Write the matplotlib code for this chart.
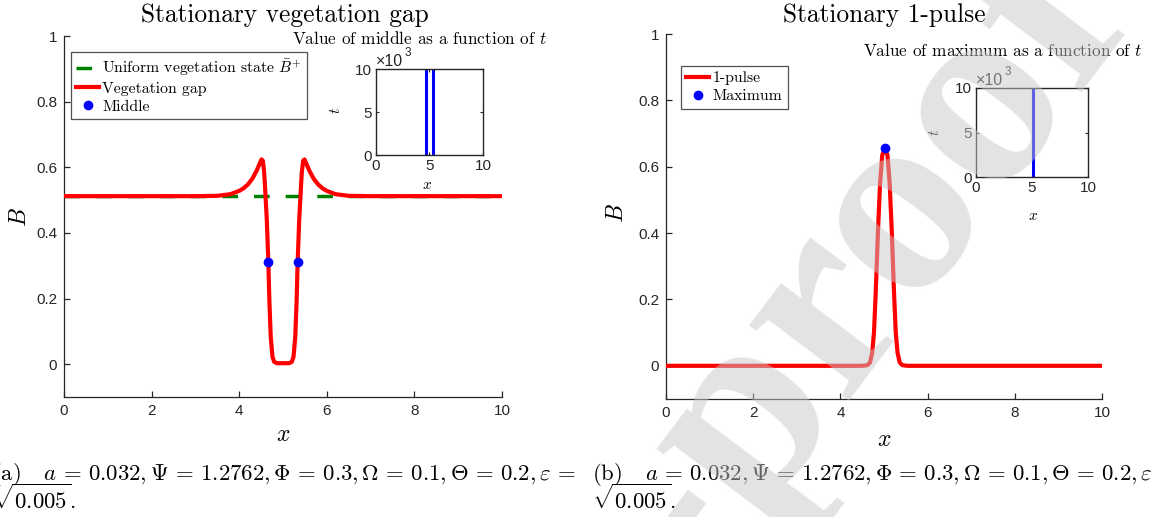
import matplotlib
matplotlib.use("Agg")
import matplotlib.pyplot as plt

plt.rcParams['font.family'] = ['Liberation Sans', 'DejaVu Sans']
plt.rcParams['mathtext.fontset'] = 'cm'

# ---- data ----
# (a) stationary vegetation gap
gap_x = [0, 3.0, 3.5, 3.8, 4.0, 4.1, 4.2, 4.3, 4.4, 4.47, 4.51, 4.54, 4.57, 4.59, 4.63,
         4.665, 4.69, 4.72, 4.76, 4.80, 4.86, 5.0, 5.14, 5.20, 5.24, 5.28, 5.31, 5.335,
         5.37, 5.41, 5.43, 5.46, 5.49, 5.53, 5.6, 5.7, 5.8, 5.9, 6.0, 6.2, 6.5, 7.0, 10]
gap_B = [0.512, 0.512, 0.513, 0.518, 0.528, 0.536, 0.548, 0.565, 0.590, 0.612, 0.624, 0.620,
         0.585, 0.54, 0.44, 0.312, 0.19, 0.083, 0.022, 0.007, 0.003, 0.003, 0.003, 0.007,
         0.022, 0.083, 0.19, 0.312, 0.44, 0.54, 0.585, 0.620, 0.624, 0.612, 0.590, 0.565,
         0.548, 0.536, 0.528, 0.518, 0.513, 0.512, 0.512]
uniform_x = [0, 10]
uniform_B = [0.512, 0.512]
middle_x = [4.665, 5.35]
middle_B = [0.312, 0.312]

# (b) stationary 1-pulse
pulse_x = [0, 4.5, 4.62, 4.68, 4.73, 4.77, 4.81, 4.86, 4.91, 4.96, 5.02, 5.08, 5.13, 5.18,
           5.23, 5.27, 5.31, 5.36, 5.42, 5.54, 10]
pulse_B = [0, 0, 0.002, 0.01, 0.04, 0.10, 0.22, 0.40, 0.55, 0.635, 0.655, 0.635, 0.55, 0.40,
           0.22, 0.10, 0.04, 0.01, 0.002, 0, 0]
max_x = [5.02]
max_B = [0.655]

# insets: position as a function of t (t in units of 10^3)
inset_t = [0, 10]
middle_pos = [4.66, 5.37]
max_pos = [5.05]

main_xticks = [0, 2, 4, 6, 8, 10]
main_yticks = [0, 0.2, 0.4, 0.6, 0.8, 1]
main_ylabels = ['0', '0.2', '0.4', '0.6', '0.8', '1']
inset_ticks = [0, 5, 10]

caption = (r"$a\,=\,0.032,\Psi\,=\,1.2762,\Phi\,=\,0.3,\Omega\,=\,0.1,"
           r"\Theta\,=\,0.2,\varepsilon\,=$")

W, H = 1152, 517
axc = '#262626'
fig = plt.figure(figsize=(W / 100, H / 100), dpi=100)


def px(x0, y0, x1, y1):
    # pixel box (top-left origin) -> figure fraction rect
    return [x0 / W, 1 - y1 / H, (x1 - x0) / W, (y1 - y0) / H]


def style_main(ax):
    ax.set_xlim(0, 10)
    ax.set_ylim(-0.1, 1)
    for s in ['top', 'right']:
        ax.spines[s].set_visible(False)
    for s in ['left', 'bottom']:
        ax.spines[s].set_color(axc)
        ax.spines[s].set_linewidth(0.9)
    ax.set_xticks(main_xticks)
    ax.set_yticks(main_yticks)
    ax.set_yticklabels(main_ylabels)
    ax.tick_params(direction='in', length=4, width=0.9, color=axc, labelcolor=axc,
                   labelsize=11, pad=5)


def style_inset(ax):
    ax.set_xlim(0, 10)
    ax.set_ylim(0, 10)
    for s in ax.spines.values():
        s.set_color(axc)
        s.set_linewidth(1.0)
    ax.set_xticks(inset_ticks)
    ax.set_yticks(inset_ticks)
    ax.tick_params(direction='in', length=2.5, width=0.8, color=axc, labelcolor=axc,
                   labelsize=11, pad=3, top=True, right=True)
    ax.text(0, 1.0, u'\u00d710', transform=ax.transAxes, fontsize=11.5, color=axc,
            ha='left', va='bottom')
    ax.annotate('3', xy=(0, 1.0), xycoords='axes fraction', xytext=(20.5, 7),
                textcoords='offset points', fontsize=8.5, color=axc, ha='left', va='bottom')


# ---------------- left panel ----------------
ax1 = fig.add_axes(px(64, 36, 502, 397))
style_main(ax1)
ax1.plot(uniform_x, uniform_B, color='#008000', lw=2.5, ls=(0, (4.5, 4.6)),
         label=r'Uniform vegetation state $\bar{B}^{+}$', zorder=2)
ax1.plot(gap_x, gap_B, color='red', lw=3, label='Vegetation gap', zorder=3)
ax1.plot(middle_x, middle_B, 'o', color='blue', ms=6, label='Middle', zorder=4)
leg1 = ax1.legend(loc='upper left', bbox_to_anchor=(71 / W, 1 - 52 / H),
                  bbox_transform=fig.transFigure, borderaxespad=0, fancybox=False,
                  handlelength=1.45, handletextpad=0.2, labelspacing=0.25, borderpad=0.35,
                  prop={'family': 'cmr10', 'size': 11.3})
leg1.get_frame().set_edgecolor(axc)
leg1.get_frame().set_linewidth(0.9)

ins1 = fig.add_axes(px(375.7, 69, 483, 155.3))
style_inset(ins1)
for p in middle_pos:
    ins1.plot([p, p], inset_t, color='blue', lw=2.2)

# ---------------- right panel ----------------
ax2 = fig.add_axes(px(666, 34, 1102, 399))
style_main(ax2)
ax2.plot(pulse_x, pulse_B, color='red', lw=3, label='1-pulse', zorder=3)
ax2.plot(max_x, max_B, 'o', color='blue', ms=6, label='Maximum', zorder=4)
leg2 = ax2.legend(loc='upper left', bbox_to_anchor=(681 / W, 1 - 66 / H),
                  bbox_transform=fig.transFigure, borderaxespad=0, fancybox=False,
                  handlelength=1.45, handletextpad=0.2, labelspacing=0.25, borderpad=0.35,
                  prop={'family': 'cmr10', 'size': 11.3})
leg2.get_frame().set_edgecolor(axc)
leg2.get_frame().set_linewidth(0.9)

ins2 = fig.add_axes(px(975.7, 87.7, 1088.3, 177.3))
style_inset(ins2)
for p in max_pos:
    ins2.plot([p, p], inset_t, color='blue', lw=2.2)

# ---------------- texts ----------------
cm = 'cmr10'
fig.text(285 / W, 1 - 22 / H, 'Stationary vegetation gap', family=cm, fontsize=18.3,
         ha='center', va='baseline')
fig.text(884 / W, 1 - 22 / H, 'Stationary 1-pulse', family=cm, fontsize=18.3,
         ha='center', va='baseline')
fig.text(547 / W, 1 - 44 / H, r'Value of middle as a function of $t$', family=cm,
         fontsize=12.4, ha='right', va='baseline')
fig.text(1143 / W, 1 - 56 / H, r'Value of maximum as a function of $t$', family=cm,
         fontsize=12.4, ha='right', va='baseline')

for (xx, yy) in [(283, 435), (884, 440)]:
    fig.text(xx / W, 1 - yy / H, r'$x$', fontsize=17, ha='center', va='center')
for (xx, yy) in [(20, 217), (617, 213)]:
    fig.text(xx / W, 1 - yy / H, r'$B$', fontsize=17, ha='center', va='center', rotation=90)
for (xx, yy) in [(427, 185), (1033, 216)]:
    fig.text(xx / W, 1 - yy / H, r'$x$', fontsize=11, ha='center', va='center')
for (xx, yy) in [(336, 110), (935, 132)]:
    fig.text(xx / W, 1 - yy / H, r'$t$', fontsize=11, ha='center', va='center', rotation=90)

# captions
for (x0, tag) in [(-8, '(a)'), (592, '(b)')]:
    fig.text(x0 / W, 1 - 480 / H, tag + '   ' + caption, family=cm, fontsize=16.4,
             ha='left', va='baseline')
    fig.text(x0 / W, 1 - 509 / H, r'$\sqrt{0.005}$.', family=cm, fontsize=16.4,
             ha='left', va='baseline')

# watermark
fig.text(1132 / W, 1 - 25 / H, 'Journal Pre-proof', family='Liberation Serif', fontsize=195,
         fontweight='bold', color=(0.78, 0.78, 0.78), alpha=0.5, rotation=53,
         rotation_mode='anchor', ha='right', va='baseline', zorder=10)

fig.savefig('out.png', dpi=100)
